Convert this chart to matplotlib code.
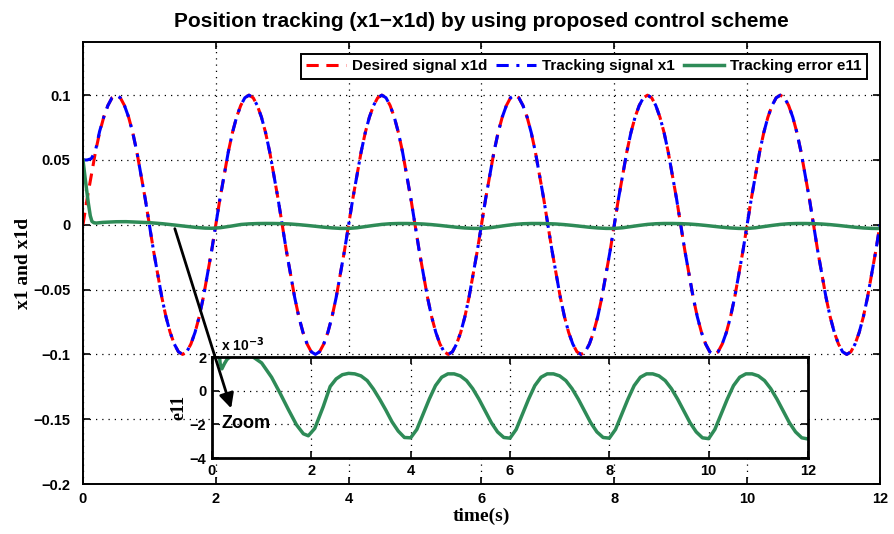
import numpy as np
import matplotlib
matplotlib.use('Agg')
import matplotlib.pyplot as plt
from matplotlib.patches import FancyArrowPatch

# desired signal x1d, read every 0.0625 s (one row per 2 s cycle)
t_sig = np.arange(0, 12.001, 0.0625)
x1d = [0, 0.020, 0.038, 0.056, 0.071, 0.083, 0.092, 0.098, 0.1, 0.098, 0.092, 0.083, 0.071, 0.056, 0.038, 0.020,
       0, -0.020, -0.038, -0.056, -0.071, -0.083, -0.092, -0.098, -0.1, -0.098, -0.092, -0.083, -0.071, -0.056, -0.038, -0.020,
       0, 0.020, 0.038, 0.056, 0.071, 0.083, 0.092, 0.098, 0.1, 0.098, 0.092, 0.083, 0.071, 0.056, 0.038, 0.020,
       0, -0.020, -0.038, -0.056, -0.071, -0.083, -0.092, -0.098, -0.1, -0.098, -0.092, -0.083, -0.071, -0.056, -0.038, -0.020,
       0, 0.020, 0.038, 0.056, 0.071, 0.083, 0.092, 0.098, 0.1, 0.098, 0.092, 0.083, 0.071, 0.056, 0.038, 0.020,
       0, -0.020, -0.038, -0.056, -0.071, -0.083, -0.092, -0.098, -0.1, -0.098, -0.092, -0.083, -0.071, -0.056, -0.038, -0.020,
       0, 0.020, 0.038, 0.056, 0.071, 0.083, 0.092, 0.098, 0.1, 0.098, 0.092, 0.083, 0.071, 0.056, 0.038, 0.020,
       0, -0.020, -0.038, -0.056, -0.071, -0.083, -0.092, -0.098, -0.1, -0.098, -0.092, -0.083, -0.071, -0.056, -0.038, -0.020,
       0, 0.020, 0.038, 0.056, 0.071, 0.083, 0.092, 0.098, 0.1, 0.098, 0.092, 0.083, 0.071, 0.056, 0.038, 0.020,
       0, -0.020, -0.038, -0.056, -0.071, -0.083, -0.092, -0.098, -0.1, -0.098, -0.092, -0.083, -0.071, -0.056, -0.038, -0.020,
       0, 0.020, 0.038, 0.056, 0.071, 0.083, 0.092, 0.098, 0.1, 0.098, 0.092, 0.083, 0.071, 0.056, 0.038, 0.020,
       0, -0.020, -0.038, -0.056, -0.071, -0.083, -0.092, -0.098, -0.1, -0.098, -0.092, -0.083, -0.071, -0.056, -0.038, -0.020,
       0]
# tracking signal x1: starts at 0.05, then lies on x1d
x1_start = [0.05, 0.05, 0.051, 0.057, 0.072]
x1 = x1_start + x1d[len(x1_start):]

# tracking error e11 (in units of 1e-3)
t_err = [0, 0.04, 0.08, 0.11, 0.135, 0.165, 0.2, 0.25, 0.3, 0.36, 0.5, 0.65, 0.83, 1.0, 1.2, 1.37, 1.54,
         1.7, 1.84, 1.94, 2.07, 2.24, 2.38] + list(np.arange(2.5, 12.001, 0.125))
e11_milli = [50, 33, 17, 7, 2.6, 1.6, 1.3, 1.6, 1.85, 2.0, 2.35, 2.4, 2.0, 1.65, 0.8, -0.14, -1.13,
             -2.02, -2.56, -2.68, -2.24, -0.95, 0.25,
             0.7, 0.95, 1.03, 1.0, 0.88, 0.6, 0.1, -0.5, -1.15, -1.85, -2.4, -2.78,
             -2.8, -2.3, -1.4, -0.5, 0.3, 0.8, 1.0, 1.0, 0.88, 0.6, 0.12, -0.5, -1.2, -1.9, -2.45, -2.78,
             -2.82, -2.3, -1.4, -0.5, 0.3, 0.8, 1.0, 1.0, 0.88, 0.6, 0.12, -0.5, -1.2, -1.9, -2.45, -2.78,
             -2.82, -2.3, -1.4, -0.5, 0.3, 0.8, 1.0, 1.0, 0.88, 0.6, 0.12, -0.5, -1.2, -1.9, -2.45, -2.8,
             -2.85, -2.3, -1.4, -0.5, 0.3, 0.8, 1.0, 1.0, 0.88, 0.6, 0.12, -0.5, -1.2, -1.9, -2.45, -2.8,
             -2.87]
e11 = np.array(e11_milli) * 1e-3

sans = ['Liberation Sans', 'DejaVu Sans']
serif = ['Liberation Serif', 'DejaVu Serif']
plt.rcParams['font.family'] = sans
plt.rcParams['font.weight'] = 'bold'

green = '#2e8b57'

fig = plt.figure(figsize=(8.94, 5.34), dpi=100)
ax = fig.add_axes([0.0928, 0.0936, 0.8915, 0.8277])

ax.plot(t_sig, x1d, color='red', lw=2.2, ls=(0, (4, 2.5)), label='Desired signal x1d')
ax.plot(t_sig, x1, color='blue', lw=2.2, ls=(0, (4, 2.5, 1, 2.5)), label='Tracking signal x1')
ax.plot(t_err, e11, color=green, lw=2.5, label='Tracking error e11')

ax.set_xlim(0, 12)
ax.set_ylim(-0.2, 0.141)
ax.set_xticks(range(0, 13, 2))
ax.set_yticks([-0.2, -0.15, -0.1, -0.05, 0, 0.05, 0.1])
ax.set_yticklabels(['\u22120.2', '\u22120.15', '\u22120.1', '\u22120.05', '0', '0.05', '0.1'])
ax.grid(True, color='black', ls=(0, (1, 4)), lw=0.9)
ax.tick_params(direction='in', top=True, right=True, labelsize=10.5, length=5, width=1.2)
ax.tick_params(axis='y', pad=9)
ax.tick_params(axis='x', pad=6)
for s in ax.spines.values():
    s.set_linewidth(1.4)
ax.set_xlabel('time(s)', family=serif, fontsize=14, fontweight='bold', labelpad=1)
ax.set_ylabel('x1 and x1d', family=serif, fontsize=14, fontweight='bold', labelpad=1)
ax.set_title('Position tracking (x1\u2212x1d) by using proposed control scheme', fontsize=15,
             fontweight='bold', pad=11)

leg = ax.legend(loc='upper right', bbox_to_anchor=(0.993, 0.99), ncol=3, fontsize=11,
                handlelength=2.6, handletextpad=0.4, columnspacing=0.6, borderpad=0.35,
                fancybox=False, framealpha=1, edgecolor='black')
leg.get_frame().set_linewidth(1.4)

# zoomed inset of e11
ins = fig.add_axes([0.2371, 0.1423, 0.6667, 0.1891])
ins.plot(t_err, e11, color=green, lw=2.5)
ins.set_xlim(0, 12)
ins.set_ylim(-0.004, 0.002)
ins.set_xticks(range(0, 13, 2))
ins.set_yticks([-0.004, -0.002, 0, 0.002])
ins.set_yticklabels(['\u22124', '\u22122', '0', '2'])
ins.grid(True, color='black', ls=(0, (1, 4)), lw=0.9)
ins.tick_params(direction='in', top=True, right=True, labelsize=10.5, length=5, width=1.2, pad=4)
for s in ins.spines.values():
    s.set_linewidth(2)
ins.set_ylabel('e11', family=serif, fontsize=13, fontweight='bold', labelpad=2)
ins.text(0.015, 1.03, 'x 10$^{\\mathbf{-3}}$', transform=ins.transAxes, fontsize=10,
         ha='left', va='bottom')

arrow = FancyArrowPatch((174 / 894, 1 - 226 / 534), (232 / 894, 1 - 411 / 534),
                        transform=fig.transFigure, arrowstyle='-|>', mutation_scale=22,
                        color='black', lw=2, zorder=10)
fig.add_artist(arrow)
fig.text(222 / 894, 1 - 424 / 534, 'Zoom', fontsize=13, fontweight='bold', ha='left', va='center',
         zorder=10)

fig.savefig('out.png', dpi=100)
